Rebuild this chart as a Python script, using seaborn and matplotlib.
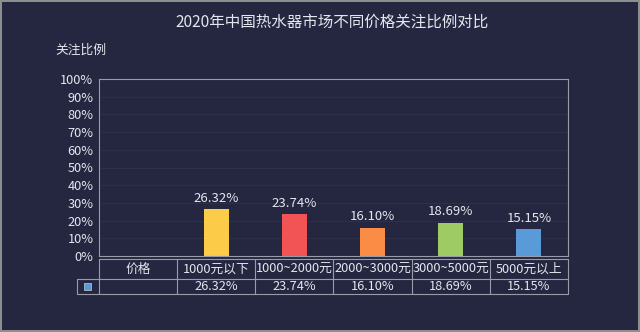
import matplotlib
matplotlib.use("Agg")
import matplotlib.pyplot as plt
import matplotlib.transforms as mtransforms
from matplotlib.lines import Line2D
from matplotlib.patches import Rectangle
import seaborn as sns
import pandas as pd

categories = ["1000元以下", "1000~2000元", "2000~3000元", "3000~5000元", "5000元以上"]
values = [26.32, 23.74, 16.10, 18.69, 15.15]
colors = ["#FCCB48", "#F25355", "#FB8C45", "#9ECB64", "#599BD9"]
header_label = "价格"
title = "2020年中国热水器市场不同价格关注比例对比"
ylabel = "关注比例"
yticks = list(range(0, 101, 10))

BG = "#252640"
TXT = "#E4E7EE"
LINE = "#9A9BA8"
GRID = "#2E3049"

sns.set_theme(style="dark")
plt.rcParams["font.family"] = ["Noto Sans CJK SC", "DejaVu Sans"]

fig = plt.figure(figsize=(6.4, 3.32), dpi=100, facecolor=BG)
ax = fig.add_axes([99/640, 1-256/332, (568-99)/640, (256-79)/332])
ax.set_facecolor(BG)

df = pd.DataFrame({"cat": categories, "val": values})
order = [header_label] + categories
sns.barplot(data=df, x="cat", y="val", order=order, hue="cat",
            palette=dict(zip(categories, colors)), width=0.32,
            legend=False, ax=ax, saturation=1, linewidth=0)

for i, v in enumerate(values):
    ax.text(i + 1, v + 2.5, f"{v:.2f}%", ha="center", va="bottom",
            color=TXT, fontsize=9.5)

ax.set_xlim(-0.5, len(order) - 0.5)
ax.set_ylim(0, 100)
ax.set_yticks(yticks)
ax.set_yticklabels([f"{t}%" for t in yticks], color=TXT, fontsize=9.2)
ax.set_xticks([])
ax.set_xlabel("")
ax.set_ylabel("")
ax.tick_params(axis="y", length=0, pad=4)
ax.grid(axis="y", color=GRID, linewidth=0.8)
ax.set_axisbelow(True)
for s in ax.spines.values():
    s.set_visible(True)
    s.set_color(LINE)
    s.set_linewidth(0.8)

fig.text(332/640, 1-22/332, title, ha="center", va="center", color=TXT, fontsize=11.2)
fig.text(55/640, 1-50/332, ylabel, ha="left", va="center", color=TXT, fontsize=9.2)

# data table below the plot
trans = mtransforms.blended_transform_factory(ax.transData, fig.transFigure)
y_top, y_mid, y_bot = 1-259/332, 1-279/332, 1-294/332
n = len(order)
xs = [i - 0.5 for i in range(n + 1)]
lw = 0.8
for y in (y_top, y_mid, y_bot):
    fig.add_artist(Line2D([xs[0], xs[-1]], [y, y], transform=trans, color=LINE, lw=lw))
for x in xs:
    fig.add_artist(Line2D([x, x], [y_bot, y_top], transform=trans, color=LINE, lw=lw))
# legend cell on the value row
lx0 = 77/640
x0_fig = ax.get_position().x0
fig.add_artist(Line2D([lx0, lx0], [y_bot, y_mid], transform=fig.transFigure, color=LINE, lw=lw))
fig.add_artist(Line2D([lx0, x0_fig], [y_mid, y_mid], transform=fig.transFigure, color=LINE, lw=lw))
fig.add_artist(Line2D([lx0, x0_fig], [y_bot, y_bot], transform=fig.transFigure, color=LINE, lw=lw))
fig.add_artist(Rectangle((84/640, 1-290/332), 7/640, 7/332, transform=fig.transFigure,
                         facecolor="#599BD9", edgecolor="#CCCCCC", lw=0.5))

for i, lab in enumerate(order):
    fig.text(i, (y_top + y_mid) / 2, lab, transform=trans, ha="center", va="center",
             color=TXT, fontsize=9.2)
for i, v in enumerate(values):
    fig.text(i + 1, (y_mid + y_bot) / 2, f"{v:.2f}%", transform=trans, ha="center",
             va="center", color=TXT, fontsize=9.2)

fig.patch.set_edgecolor("#8E8E8E")
fig.patch.set_linewidth(1.5)
fig.savefig("out.png", dpi=100, facecolor=BG, edgecolor="#8E8E8E")
